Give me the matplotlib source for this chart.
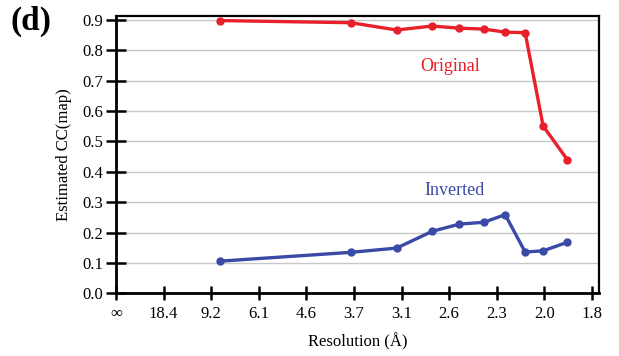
import matplotlib.pyplot as plt

# resolution of each point (Angstrom)
resolution = [8.40, 3.73, 3.12, 2.77, 2.55, 2.38, 2.25, 2.14, 2.05, 1.94]
cc_original = [0.898, 0.891, 0.867, 0.880, 0.873, 0.870, 0.860, 0.858, 0.551, 0.440]
cc_inverted = [0.106, 0.135, 0.149, 0.204, 0.228, 0.234, 0.259, 0.136, 0.140, 0.168]

# x axis is linear in 1/d, ticks every 1/18.4
tick_steps = list(range(11))
tick_labels = ["\u221e", "18.4", "9.2", "6.1", "4.6", "3.7", "3.1", "2.6", "2.3", "2.0", "1.8"]

plt.rcParams["font.family"] = ["Liberation Serif", "DejaVu Serif"]

fig = plt.figure(figsize=(6.19, 3.56), dpi=100)
ax = fig.add_axes([0.1874, 0.176, 0.7803, 0.779])

inv_d = [1.0 / d for d in resolution]
ax.plot(inv_d, cc_original, color="#e8202a", lw=2.4, marker="o", ms=5, zorder=3)
ax.plot(inv_d, cc_inverted, color="#3a4aa6", lw=2.4, marker="o", ms=5, zorder=3)

ax.text(7.02 / 18.4, 0.748, "Original", color="#e8202a", fontsize=13, ha="center", va="center")
ax.text(7.11 / 18.4, 0.340, "Inverted", color="#3a4aa6", fontsize=13, ha="center", va="center")

ax.set_xlim(0, 10.15 / 18.4)
ax.set_ylim(0, 0.913)
ax.set_xticks([k / 18.4 for k in tick_steps])
ax.set_xticklabels(tick_labels)
ax.set_yticks([i / 10 for i in range(10)])
ax.set_yticklabels([f"{i / 10:.1f}" for i in range(10)])
ax.tick_params(axis="both", labelsize=12, direction="inout", width=1.8, color="black")
ax.tick_params(axis="y", length=14, pad=2)
ax.tick_params(axis="x", length=10, pad=4)

ax.yaxis.grid(True, color="#c8c8c8", lw=1)
ax.set_axisbelow(True)
for side in ["left", "bottom"]:
    ax.spines[side].set_linewidth(2.0)
for side in ["top", "right"]:
    ax.spines[side].set_linewidth(1.6)

ax.set_xlabel("Resolution (\u00c5)", fontsize=12, labelpad=8)
ax.set_ylabel("Estimated CC(map)", fontsize=12, labelpad=8)

fig.text(0.017, 0.94, "(d)", fontsize=24, fontweight="bold", va="center")

fig.savefig("out.png", dpi=100)
